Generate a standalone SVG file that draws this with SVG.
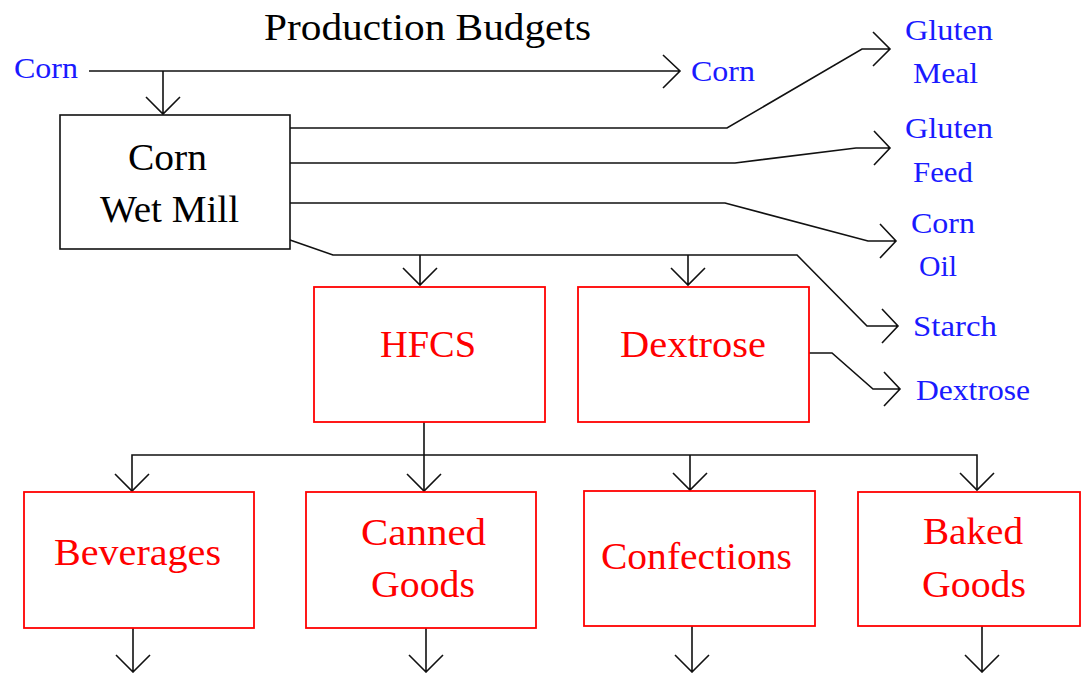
<svg xmlns="http://www.w3.org/2000/svg" width="1082" height="673" viewBox="0 0 1082 673">
<style>
.ln{fill:none;stroke:#111;stroke-width:1.6}
.bk{fill:#fff;stroke:#111;stroke-width:1.6}
.rd{fill:#fff;stroke:#ff0000;stroke-width:1.8}
text{font-family:"Liberation Serif","Times New Roman",serif}
.t1{font-size:38px;fill:#000}
.tr{font-size:38px;fill:#ff0000}
.tb{font-size:30px;fill:#1a1aff}
</style>
<rect width="1082" height="673" fill="#fff"/>
<text class="t1" x="264" y="40" textLength="327" lengthAdjust="spacingAndGlyphs">Production Budgets</text>
<g id="connectors">
<path class="ln" d="M89,71 H680 M663,55 L680,71 L663,88"/>
<path class="ln" d="M163,71 V114 M146,97 L163,114 L180,97"/>
<path class="ln" d="M290,128 H727 L862,49 H890 M873,32 L890,49 L873,66"/>
<path class="ln" d="M290,163 H735 L856,148 H890 M874,131 L890,148 L874,165"/>
<path class="ln" d="M290,203 H725 L868,241 H896 M880,224 L896,241 L880,258"/>
<path class="ln" d="M290,240 L333,255 H797 L867,326 H898 M882,309 L898,326 L882,343"/>
<path class="ln" d="M420,255 V285 M403,268 L420,285 L437,268"/>
<path class="ln" d="M688,255 V285 M671,268 L688,285 L705,268"/>
<path class="ln" d="M809,353 H832 L873,389 H900 M884,372 L900,389 L884,406"/>
<path class="ln" d="M424,422 V491 M132,491 V455 H977 V490"/>
<path class="ln" d="M407,474 L424,491 L441,474 M115,474 L132,491 L149,474"/>
<path class="ln" d="M690,455 V490 M673,473 L690,490 L707,473 M960,473 L977,490 L994,473"/>
<path class="ln" d="M133,628 V672 M116,655 L133,672 L150,655"/>
<path class="ln" d="M426,628 V672 M409,655 L426,672 L443,655"/>
<path class="ln" d="M692,626 V672 M675,655 L692,672 L709,655"/>
<path class="ln" d="M982,626 V672 M965,655 L982,672 L999,655"/>
</g>
<g id="corn-in"><text class="tb" x="14" y="78" textLength="64" lengthAdjust="spacingAndGlyphs">Corn</text></g>
<g id="corn-out"><text class="tb" x="691" y="81" textLength="64" lengthAdjust="spacingAndGlyphs">Corn</text></g>
<g id="gluten-meal"><text class="tb" x="905" y="40" textLength="88" lengthAdjust="spacingAndGlyphs">Gluten</text><text class="tb" x="913" y="83" textLength="65" lengthAdjust="spacingAndGlyphs">Meal</text></g>
<g id="gluten-feed"><text class="tb" x="905" y="138" textLength="88" lengthAdjust="spacingAndGlyphs">Gluten</text><text class="tb" x="913" y="182" textLength="60" lengthAdjust="spacingAndGlyphs">Feed</text></g>
<g id="corn-oil"><text class="tb" x="911" y="233" textLength="64" lengthAdjust="spacingAndGlyphs">Corn</text><text class="tb" x="919" y="276" textLength="38" lengthAdjust="spacingAndGlyphs">Oil</text></g>
<g id="starch"><text class="tb" x="913" y="336" textLength="84" lengthAdjust="spacingAndGlyphs">Starch</text></g>
<g id="dextrose-out"><text class="tb" x="916" y="400" textLength="114" lengthAdjust="spacingAndGlyphs">Dextrose</text></g>
<g id="wet-mill"><rect class="bk" x="60" y="115" width="230" height="134"/><text class="t1" x="128" y="170" textLength="79" lengthAdjust="spacingAndGlyphs">Corn</text><text class="t1" x="100" y="222" textLength="139" lengthAdjust="spacingAndGlyphs">Wet Mill</text></g>
<g id="hfcs"><rect class="rd" x="314" y="287" width="231" height="135"/><text class="tr" x="380" y="357" textLength="96" lengthAdjust="spacingAndGlyphs">HFCS</text></g>
<g id="dextrose"><rect class="rd" x="578" y="287" width="231" height="135"/><text class="tr" x="620" y="357" textLength="146" lengthAdjust="spacingAndGlyphs">Dextrose</text></g>
<g id="beverages"><rect class="rd" x="24" y="492" width="230" height="136"/><text class="tr" x="54" y="565" textLength="167" lengthAdjust="spacingAndGlyphs">Beverages</text></g>
<g id="canned-goods"><rect class="rd" x="306" y="492" width="230" height="136"/><text class="tr" x="361" y="545" textLength="125" lengthAdjust="spacingAndGlyphs">Canned</text><text class="tr" x="371" y="597" textLength="104" lengthAdjust="spacingAndGlyphs">Goods</text></g>
<g id="confections"><rect class="rd" x="584" y="491" width="231" height="135"/><text class="tr" x="601" y="569" textLength="191" lengthAdjust="spacingAndGlyphs">Confections</text></g>
<g id="baked-goods"><rect class="rd" x="858" y="492" width="222" height="134"/><text class="tr" x="923" y="544" textLength="100" lengthAdjust="spacingAndGlyphs">Baked</text><text class="tr" x="922" y="597" textLength="104" lengthAdjust="spacingAndGlyphs">Goods</text></g>
</svg>
